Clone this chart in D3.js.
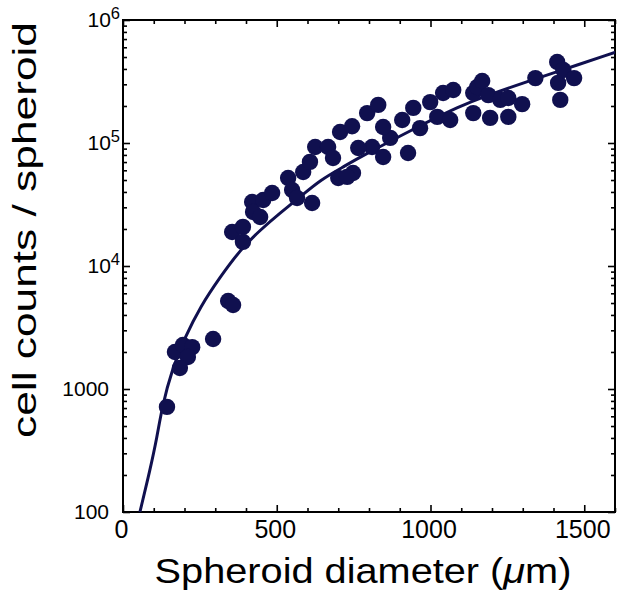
<!DOCTYPE html>
<html>
<head>
<meta charset="utf-8">
<script src="https://cdn.jsdelivr.net/npm/d3@7"></script>
<style>
	html, body { margin: 0; padding: 0; background: #fff; }
	svg { display: block; font-family: 'Liberation Sans', Arial, Helvetica, sans-serif; }
</style>
</head>
<body>
<div id="chart"></div>
<script>
'use strict';

// spheroid diameter (um) / cell counts per spheroid
var diameters = [143, 169, 195, 225, 211, 185, 293, 342, 358, 355,
	390, 390, 420, 423, 446, 456, 485, 537, 550, 566,
	615, 586, 608, 625, 667, 683, 700, 748, 729, 706,
	745, 794, 830, 810, 846, 869, 846, 908, 927, 944,
	966, 999, 1022, 1041, 1074, 1064, 1139, 1139, 1152, 1168,
	1188, 1194, 1227, 1253, 1253, 1298, 1341, 1412, 1415, 1422,
	1432, 1467, 765];
var counts = [715, 2000, 2280, 2190, 1820, 1480, 2550, 5190, 4820, 18900,
	20800, 15700, 33100, 27500, 25000, 34400, 39200, 51900, 41500, 35700,
	32500, 58100, 70200, 92700, 92700, 75500, 51900, 57000, 53000, 123000,
	137000, 175000, 204000, 92700, 76900, 110000, 135000, 154000, 83000, 193000,
	132000, 215000, 163000, 255000, 270000, 154000, 255000, 175000, 285000, 319000,
	245000, 160000, 224000, 163000, 232000, 207000, 337000, 456000, 308000, 224000,
	392000, 337000, 91000];

// fitted curve
var fitDiameters = [55, 88, 111, 127, 159, 202, 251, 316, 381, 446, 511, 576, 641, 716, 771, 957, 1097, 1171, 1315, 1389, 1604];
var fitCounts = [100, 220, 410, 715, 1430, 2650, 4650, 8150, 13500, 19600, 27000, 36400, 50000, 63800, 76900, 135000, 200000, 237000, 316000, 363000, 550000];

var xMajorTicks = [0, 500, 1000, 1500];
var xMinorTicks = [100, 200, 300, 400, 600, 700, 800, 900, 1100, 1200, 1300, 1400, 1600];
var yMajorTicks = [100, 1000, 10000, 100000, 1000000];
var yMinorTicks = [200, 300, 400, 500, 600, 700, 800, 900,
	2000, 3000, 4000, 5000, 6000, 7000, 8000, 9000,
	20000, 30000, 40000, 50000, 60000, 70000, 80000, 90000,
	200000, 300000, 400000, 500000, 600000, 700000, 800000, 900000];
var yTickBase = ['100', '1000', '10', '10', '10'];
var yTickExp = ['', '', '4', '5', '6'];

var xTitle = ['Spheroid diameter (', '\u03bc', 'm)'];
var yTitle = 'cell counts / spheroid';

var navy = '#10104f';

var margin = {top: 20, right: 7, bottom: 89, left: 123};
var width = 622 - margin.left - margin.right;
var height = 601 - margin.top - margin.bottom;

var svg = d3.select('#chart').append('svg')
	.attr('width', width + margin.left + margin.right)
	.attr('height', height + margin.top + margin.bottom);

var g = svg.append('g')
	.attr('transform', 'translate(' + margin.left + ',' + margin.top + ')');

var x = d3.scaleLinear().domain([0, 1600]).range([0, width]);
var y = d3.scaleLog().domain([100, 1000000]).range([height, 0]);

function clean(sel){
	sel.select('.domain').remove();
	sel.selectAll('.tick line').attr('stroke', '#000').attr('stroke-width', 1.6);
}

// bottom
g.append('g')
	.attr('transform', 'translate(0,' + height + ')')
	.call(d3.axisBottom(x).tickValues(xMajorTicks).tickSize(-7).tickPadding(8).tickFormat(d3.format('d')))
	.call(clean)
	.call(function(a){
		a.selectAll('text').attr('font-size', 25).attr('fill', '#000').attr('dx', -2)
			.style('font-family', "'Liberation Sans', Arial, sans-serif");
	});
g.append('g')
	.attr('transform', 'translate(0,' + height + ')')
	.call(d3.axisBottom(x).tickValues(xMinorTicks).tickSize(-4).tickFormat(''))
	.call(clean);

// top
g.append('g')
	.call(d3.axisTop(x).tickValues(xMajorTicks).tickSize(-7).tickFormat(''))
	.call(clean);
g.append('g')
	.call(d3.axisTop(x).tickValues(xMinorTicks).tickSize(-4).tickFormat(''))
	.call(clean);

// left
var yLeft = g.append('g')
	.call(d3.axisLeft(y).tickValues(yMajorTicks).tickSize(-7).tickPadding(14)
		.tickFormat(function(d, i){ return yTickBase[i]; }))
	.call(clean);
yLeft.selectAll('text')
	.attr('font-size', 21)
	.attr('fill', '#000')
	.attr('dy', '0.3em')
	.style('font-family', "'Liberation Sans', Arial, sans-serif")
	.each(function(d, i){
		if (yTickExp[i]) {
			d3.select(this).attr('x', -3);
			d3.select(this).append('tspan')
				.attr('font-size', 16.5)
				.attr('dy', -8)
				.text(yTickExp[i]);
		}
	});
g.append('g')
	.call(d3.axisLeft(y).tickValues(yMinorTicks).tickSize(-4).tickFormat(''))
	.call(clean);

// right
g.append('g')
	.attr('transform', 'translate(' + width + ',0)')
	.call(d3.axisRight(y).tickValues(yMajorTicks).tickSize(-7).tickFormat(''))
	.call(clean);
g.append('g')
	.attr('transform', 'translate(' + width + ',0)')
	.call(d3.axisRight(y).tickValues(yMinorTicks).tickSize(-4).tickFormat(''))
	.call(clean);

// frame
g.append('rect')
	.attr('width', width)
	.attr('height', height)
	.attr('fill', 'none')
	.attr('stroke', '#000')
	.attr('stroke-width', 2);

g.append('clipPath').attr('id', 'plot-clip')
	.append('rect').attr('width', width).attr('height', height);

var fit = d3.zip(fitDiameters, fitCounts);
g.append('path')
	.attr('clip-path', 'url(#plot-clip)')
	.attr('fill', 'none')
	.attr('stroke', navy)
	.attr('stroke-width', 3)
	.attr('d', d3.line()
		.x(function(d){ return x(d[0]); })
		.y(function(d){ return y(d[1]); })
		.curve(d3.curveBasis)(fit));

g.append('g').selectAll('circle')
	.data(d3.zip(diameters, counts))
	.join('circle')
		.attr('cx', function(d){ return x(d[0]); })
		.attr('cy', function(d){ return y(d[1]); })
		.attr('r', 8.2)
		.attr('fill', navy);

// titles, stretched to the widths of the original lettering
var xt = svg.append('text')
	.attr('font-size', 35)
	.attr('text-anchor', 'middle');
xt.append('tspan').text(xTitle[0]);
xt.append('tspan').attr('font-style', 'italic').text(xTitle[1]);
xt.append('tspan').text(xTitle[2]);
var xw = xt.node().getBBox().width;
xt.attr('transform', 'translate(363,583) scale(' + (417 / xw) + ',1)');

var yt = svg.append('text')
	.attr('font-size', 33)
	.attr('text-anchor', 'middle')
	.text(yTitle);
var yw = yt.node().getBBox().width;
yt.attr('transform', 'translate(36,230) rotate(-90) scale(' + (416 / yw) + ',1)');
</script>
</body>
</html>
